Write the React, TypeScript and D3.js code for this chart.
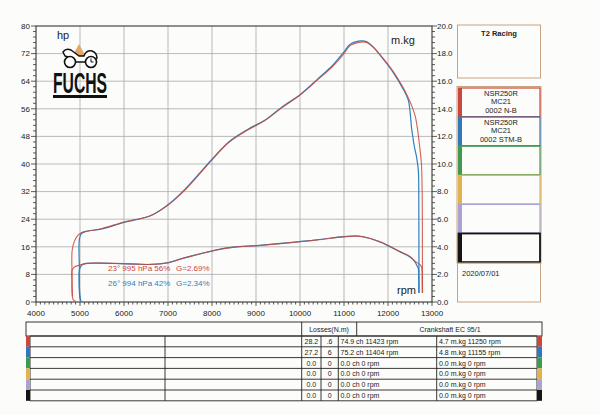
import React from "react";
import * as d3 from "d3";

// ---- data (rpm, value) ----
const powerRed: [number, number][] = [
  [4900, 0.2], [4840, 0.8], [4820, 8], [4822, 15], [4870, 17.5], [4950, 19.3], [5030, 20.1], [5114, 20.4],
  [5500, 21.3], [6000, 23.2], [6600, 25.0], [6970, 27.8], [7350, 32.0], [7730, 37.3], [8000, 41.2],
  [8400, 46.4], [8820, 49.9], [9200, 52.6], [9600, 56.4], [10000, 60.0], [10400, 64.4], [10750, 68.4],
  [11000, 72.0], [11140, 74.3], [11423, 75.4], [11520, 75.2], [11670, 73.8], [11890, 70.6], [12120, 66.8],
  [12350, 62.0], [12460, 59.2], [12560, 56.2], [12620, 53.8], [12670, 50.2], [12720, 45], [12760, 40],
  [12778, 30], [12782, 10], [12785, 2.6],
];
const powerBlue: [number, number][] = [
  [5030, 0.1], [4995, 1.5], [4985, 10], [4987, 18.3], [5030, 19.8], [5114, 20.4], [5500, 21.2],
  [6000, 23.1], [6600, 25.0], [6970, 27.9], [7350, 32.2], [7730, 37.5], [8000, 41.4], [8400, 46.6],
  [8820, 50.1], [9200, 52.7], [9600, 56.6], [10000, 60.1], [10400, 64.6], [10750, 68.7], [11000, 72.5],
  [11140, 74.7], [11404, 75.7], [11520, 75.4], [11670, 73.8], [11890, 70.4], [12120, 66.5], [12350, 61.6],
  [12460, 58.6], [12540, 50], [12600, 45], [12650, 42], [12690, 38], [12700, 30], [12703, 10], [12705, 2.6],
];
const torqueRed: [number, number][] = [
  [4830, 0.4], [4818, 1.5], [4820, 2.3], [4880, 2.55], [5000, 2.68], [5166, 2.8], [5455, 2.82],
  [5800, 2.8], [6211, 2.76], [6591, 2.72], [6970, 2.82], [7348, 3.17], [7727, 3.48], [8106, 3.77],
  [8484, 3.96], [9015, 4.08], [9620, 4.25], [10379, 4.49], [10984, 4.72], [11250, 4.76], [11439, 4.72],
  [11818, 4.37], [12273, 3.66], [12500, 3.3], [12614, 2.95], [12727, 2.7], [12765, 2.5], [12775, 1.5],
  [12778, 0.65],
];
const torqueBlue: [number, number][] = [
  [5010, 0.1], [4995, 0.6], [4993, 2.4], [5050, 2.7], [5166, 2.8], [5455, 2.81], [5800, 2.79],
  [6211, 2.75], [6591, 2.72], [6970, 2.83], [7348, 3.18], [7727, 3.49], [8106, 3.78], [8484, 3.97],
  [9015, 4.09], [9620, 4.26], [10379, 4.5], [10984, 4.74], [11250, 4.79], [11439, 4.73], [11818, 4.36],
  [12273, 3.63], [12500, 3.26], [12614, 2.9], [12670, 2.55], [12690, 2.42], [12700, 1.5], [12702, 0.65],
];

const xTicks = [4000, 5000, 6000, 7000, 8000, 9000, 10000, 11000, 12000, 13000];
const hpTicks = [0, 8, 16, 24, 32, 40, 48, 56, 64, 72, 80];
const tqTicks = [0, 2, 4, 6, 8, 10, 12, 14, 16, 18, 20];

const legendRed = ["23°  995 hPa  56%", "G=2.69%"];
const legendBlue = ["26°  994 hPa  42%", "G=2.34%"];

const boxColors = ["#c9473c", "#2f78bd", "#3f9a4e", "#e2b34a", "#aaa2d2", "#151515"];
const boxLabels = [["NSR250R", "MC21", "0002 N-B"], ["NSR250R", "MC21", "0002 STM-B"], [], [], [], []];

const lossA = ["28.2", "27.2", "0.0", "0.0", "0.0", "0.0"];
const lossB = [".6", "6", "0", "0", "0", "0"];
const powerPeaks = ["74.9 ch 11423 rpm", "75.2 ch 11404 rpm", "0.0 ch 0 rpm", "0.0 ch 0 rpm", "0.0 ch 0 rpm", "0.0 ch 0 rpm"];
const torquePeaks = ["4.7 m.kg 11250 rpm", "4.8 m.kg 11155 rpm", "0.0 m.kg 0 rpm", "0.0 m.kg 0 rpm", "0.0 m.kg 0 rpm", "0.0 m.kg 0 rpm"];

const RED = "#c9473c";
const BLUE = "#2f7fc1";
const TAN = "#c9a37f";
const FONT = "Liberation Sans, Arial, sans-serif";

export default function App() {
  const x = d3.scaleLinear().domain([4000, 13000]).range([36, 432]);
  const yHp = d3.scaleLinear().domain([0, 80]).range([302, 26]);
  const yTq = d3.scaleLinear().domain([0, 20]).range([302, 26]);

  const lineHp = d3.line<[number, number]>().x((d) => x(d[0])).y((d) => yHp(d[1])).curve(d3.curveCatmullRom.alpha(0.5));
  const lineTq = d3.line<[number, number]>().x((d) => x(d[0])).y((d) => yTq(d[1])).curve(d3.curveCatmullRom.alpha(0.5));

  const minorX = d3.range(4000, 13001, 100);
  const minorHp = d3.range(0, 80.01, 1.6);
  const minorTq = d3.range(0, 20.01, 0.4);

  const rowTop = 336;
  const rowH = 10.8;
  const tableCols = [30, 165, 301.7, 321, 338.3, 436.7, 537];

  return (
    <svg width={600} height={415} style={{ position: "absolute", left: 0, top: 0, background: "#fcfcfa" }} fontFamily={FONT}>
      <rect x={0} y={0} width={600} height={415} fill="#fcfcfa" />
      {/* grid */}
      {xTicks.slice(1, -1).map((t) => (
        <line key={"gx" + t} x1={x(t)} x2={x(t)} y1={yHp(80)} y2={yHp(0)} stroke="#aaa" strokeWidth={0.8} />
      ))}
      {hpTicks.slice(1, -1).map((t) => (
        <line key={"gy" + t} x1={x(4000)} x2={x(13000)} y1={yHp(t)} y2={yHp(t)} stroke="#aaa" strokeWidth={0.8} />
      ))}
      {/* frame */}
      <rect x={x(4000)} y={yHp(80)} width={x(13000) - x(4000)} height={yHp(0) - yHp(80)} fill="none" stroke="#222" strokeWidth={1} />

      {/* left axis ticks */}
      {minorHp.map((t, i) => (
        <line key={"mh" + i} x1={x(4000) - (i % 5 === 0 ? 5 : 3)} x2={x(4000)} y1={yHp(t)} y2={yHp(t)} stroke="#333" strokeWidth={0.8} />
      ))}
      {hpTicks.map((t) => (
        <text key={"lh" + t} x={x(4000) - 6} y={yHp(t)} dy="0.35em" fontSize={8} textAnchor="end" fill="#222">{t}</text>
      ))}
      {/* right axis ticks */}
      {minorTq.map((t, i) => (
        <line key={"mt" + i} x1={x(13000)} x2={x(13000) + (i % 5 === 0 ? 5 : 3)} y1={yTq(t)} y2={yTq(t)} stroke="#333" strokeWidth={0.8} />
      ))}
      {tqTicks.map((t) => (
        <text key={"lt" + t} x={x(13000) + 5} y={yTq(t)} dy="0.35em" fontSize={8} fill="#222">{d3.format(".1f")(t)}</text>
      ))}
      {/* bottom axis ticks */}
      {minorX.map((t, i) => (
        <line key={"mx" + i} x1={x(t)} x2={x(t)} y1={yHp(0)} y2={yHp(0) + (i % 10 === 0 ? 4 : 2.5)} stroke="#333" strokeWidth={0.8} />
      ))}
      {xTicks.map((t) => (
        <text key={"lx" + t} x={x(t)} y={316} fontSize={8} textAnchor="middle" fill="#222">{t}</text>
      ))}

      {/* axis titles */}
      <text x={57} y={39} fontSize={11} fill="#222">hp</text>
      <text x={391} y={44} fontSize={11} fill="#222">m.kg</text>
      <text x={397} y={294} fontSize={11} fill="#222">rpm</text>

      {/* curves */}
      <path d={lineHp(powerBlue) || ""} fill="none" stroke={BLUE} strokeWidth={1.2} />
      <path d={lineTq(torqueBlue) || ""} fill="none" stroke={BLUE} strokeWidth={1.2} />
      <path d={lineHp(powerRed) || ""} fill="none" stroke={RED} strokeWidth={1.1} strokeOpacity={0.85} />
      <path d={lineTq(torqueRed) || ""} fill="none" stroke={RED} strokeWidth={1.1} strokeOpacity={0.85} />

      {/* legend text */}
      <text x={108} y={271} fontSize={8} fill={RED}>{legendRed[0]}</text>
      <text x={176} y={271} fontSize={8} fill={RED}>{legendRed[1]}</text>
      <text x={108} y={286} fontSize={8} fill={BLUE}>{legendBlue[0]}</text>
      <text x={176} y={286} fontSize={8} fill={BLUE}>{legendBlue[1]}</text>

      {/* logo */}
      <g>
        <polygon points="79,44 72,57 86,57" fill="#e3a56a" />
        <path d="M63,52 Q66,48 71,50 L79,56 L84,56 Q86,50 92,51 Q97,53 97,58 L93,62 L74,62 Q70,57 65,56 Z" fill="#fff" stroke="#111" strokeWidth={1.5} strokeLinejoin="round" />
        <circle cx={70} cy={62} r={5.5} fill="#fff" stroke="#111" strokeWidth={1.6} />
        <circle cx={91} cy={62} r={5.5} fill="#fff" stroke="#111" strokeWidth={1.6} />
        <path d="M91,62 L91,58.5 M91,62 L93.5,62" stroke="#111" strokeWidth={1} />
        <text x={53} y={93} fontSize={29} fontWeight={900} fill="#111" textLength={54} lengthAdjust="spacingAndGlyphs" fontFamily="Liberation Sans, Arial, sans-serif">FUCHS</text>
        <rect x={53} y={95} width={54} height={3} fill="#111" />
      </g>

      {/* right panel */}
      <rect x={457.5} y={25} width={83} height={53} fill="none" stroke={TAN} strokeWidth={1} />
      <text x={499} y={36} fontSize={7.5} fontWeight="bold" textAnchor="middle" fill="#222">T2 Racing</text>
      <rect x={457} y={86.5} width={84} height={176.5} fill="none" stroke={TAN} strokeWidth={1} />
      {boxColors.map((c, i) => {
        const top = 88 + i * 29.1;
        return (
          <g key={"box" + i}>
            <rect x={458.5} y={top} width={81.5} height={28.6} fill="#fcfcfa" stroke={c} strokeWidth={i === 5 ? 1.8 : 1.2} />
            <rect x={458} y={top} width={4} height={28.6} fill={c} />
            {boxLabels[i].map((l, j) => (
              <text key={j} x={501} y={top + 8 + j * 8.3} fontSize={7.5} textAnchor="middle" fill="#222">{l}</text>
            ))}
          </g>
        );
      })}
      <rect x={457.5} y={263} width={83} height={39} fill="none" stroke={TAN} strokeWidth={1} />
      <text x={462} y={276} fontSize={7.5} fill="#222">2020/07/01</text>

      {/* table */}
      <g stroke="#222" strokeWidth={0.9} fill="none">
        <rect x={26} y={322} width={516} height={14} />
        <line x1={301.7} x2={301.7} y1={322} y2={336} />
        <line x1={356.7} x2={356.7} y1={322} y2={336} />
        {d3.range(7).map((i) => (
          <line key={"tr" + i} x1={30} x2={537} y1={rowTop + i * rowH} y2={rowTop + i * rowH} />
        ))}
        {tableCols.map((c) => (
          <line key={"tc" + c} x1={c} x2={c} y1={rowTop} y2={rowTop + 6 * rowH} />
        ))}
      </g>
      {boxColors.map((c, i) => (
        <g key={"tb" + i}>
          <rect x={26} y={rowTop + i * rowH} width={4} height={rowH} fill={c} />
          <rect x={537} y={rowTop + i * rowH} width={5} height={rowH} fill={c} />
        </g>
      ))}
      <text x={329} y={332} fontSize={7} textAnchor="middle" fill="#222">Losses(N.m)</text>
      <text x={450} y={332} fontSize={7} textAnchor="middle" fill="#222">Crankshaft EC 95/1</text>
      {lossA.map((v, i) => (
        <g key={"row" + i} fontSize={7} fill="#222">
          <text x={311.3} y={rowTop + i * rowH + 8} textAnchor="middle">{v}</text>
          <text x={329.6} y={rowTop + i * rowH + 8} textAnchor="middle">{lossB[i]}</text>
          <text x={340.5} y={rowTop + i * rowH + 8}>{powerPeaks[i]}</text>
          <text x={439} y={rowTop + i * rowH + 8}>{torquePeaks[i]}</text>
        </g>
      ))}
    </svg>
  );
}
